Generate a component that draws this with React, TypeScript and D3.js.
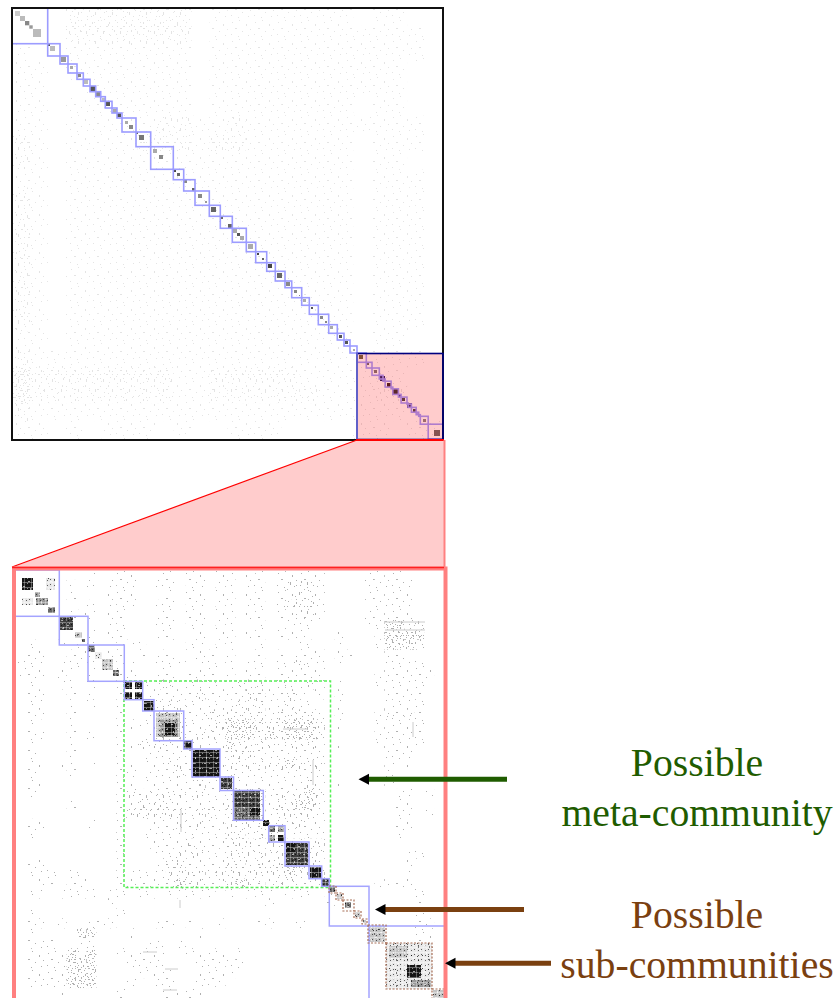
import React from "react";
import * as d3 from "d3";

// ---------- overview matrix: node index at the end of each community ----------
const overviewBounds = [0, 35.7, 48, 56, 65, 71.3, 78, 83.7, 88.7, 93.3, 100, 105, 110, 124, 138.7, 161.3, 171.7, 183, 197.3, 208.3, 220.3, 234.3, 243.7, 254.7, 263.3, 273, 279.7, 289.7, 297.3, 306.3, 316.7, 325.3, 332, 338, 345, 354.3, 360, 367.3, 371, 373.2, 379.1, 380.8, 386.4, 389.1, 395, 396.1, 399.4, 404.2, 406.7, 408.3, 416.2, 431];
const overviewSelection = [345, 431];
// [first node, last node, grey]
const overviewSpots: [number, number, string][] = [
  [3, 8, "#ccc"], [8, 13, "#bbb"], [13, 17.3, "#888"], [17.3, 20.7, "#999"], [21, 29, "#bbb"], [35.7, 38, "#555"], [38, 43, "#bbb"], [49, 54, "#999"], [58, 61, "#aaa"], [66, 69, "#888"], [72, 76, "#bbb"], [78, 83, "#555"], [84, 88, "#888"], [90, 93, "#bbb"], [94, 98, "#555"], [101, 105, "#aaa"], [105, 109, "#555"], [113, 116, "#aaa"], [117, 121, "#888"], [124, 126, "#666"], [127, 132, "#777"], [141, 145, "#aaa"], [147, 151, "#888"], [161, 164, "#444"], [165, 168, "#666"], [172, 175, "#888"], [180, 183, "#666"], [186, 190, "#888"], [193, 195, "#999"], [199, 204, "#666"], [209, 211, "#666"], [216, 220, "#666"], [221, 225, "#aaa"], [225, 228, "#555"], [228, 232, "#aaa"], [236, 241, "#aaa"], [245, 247, "#444"], [250, 252, "#666"], [256, 260, "#444"], [265, 270, "#666"], [274, 278, "#888"], [282, 285, "#888"], [287, 288, "#888"], [291, 294, "#aaa"], [299, 301, "#555"], [308, 311, "#888"], [313, 315, "#888"], [318, 321, "#aaa"], [327, 330, "#555"], [333, 336, "#555"], [341, 343, "#aaa"], [347, 351, "#664"], [355, 357, "#666"], [362, 365, "#777"], [368, 373, "#226"], [375, 379, "#322"], [381, 386, "#333"], [387, 389, "#226"], [390, 393, "#444"], [395, 400, "#336"], [401, 405, "#444"], [406, 408, "#226"], [411, 414, "#888"], [422, 428, "#666"],
];
// faint background density, 24 x 24 coarse cells
const overviewDensity = [
  "000222222201111111101100",
  "000222222201111111111110",
  "100111111101111111111110",
  "110111111101111111111100",
  "110011111101111111111100",
  "110111111101111111101100",
  "110111112211211111111110",
  "210111122212211111101110",
  "210111111111111111101100",
  "110111111111111111101110",
  "210111111111111111101110",
  "210111111111111111101110",
  "210111111111111111101110",
  "210111111111111111101110",
  "210111111111111111101110",
  "210111111111111111101110",
  "210111111111111111101110",
  "210111111111111111101110",
  "110111111111111111101100",
  "211111111111111111101110",
  "322222222112222211111100",
  "322222222112222221112200",
  "211111111111111111111100",
  "110101110100111000011011",
];

// ---------- detail matrix: node index at the end of each community ----------
const detailBounds = [0, 46.3, 75, 111.3];
const detailLaterBounds = [111.3, 129.7, 141, 170.7, 179, 207, 220.5, 250.3];
const detailLastBounds = [255.7, 272, 296, 308.7, 316.3, 356, 433];
const metaCommunity = [111, 317.5];
const subCommunities = [[316, 323], [323, 330], [330, 341], [341, 348], [349, 354], [355, 373], [373, 419], [419, 433]];

const detailDensity = [
  "0000000100110011011011011011111000011110000",
  "0000010101110011011011011012221000011111000",
  "0000010001110001011011011011221000011111000",
  "0000000101110011011011011012221000001111000",
  "0000011101100011011011011011221000011111000",
  "0000000001100011011011001001110000011332200",
  "0000000101100011001011011011100010001333300",
  "0100101100111000011011001000110010001333200",
  "0110011101101011001101001010111011000110000",
  "1110111100110011101111011011211010000111100",
  "1110100100110011011101011011111000001111110",
  "0100110100100122112111222112121010001111100",
  "0110010100100111112111122112101010000111100",
  "0110010100100122211111222112110010000111100",
  "0110010000100122211222222122221010001212100",
  "0100010000111122211123332223332010001111100",
  "0110010100100122212223332323332000001111100",
  "0100010000112222112113222212221010001111100",
  "0100010000100111111112221111111000000111000",
  "0110110100110112211222222223222000000101000",
  "0100010000110111211112111111111000000100000",
  "0110000000110111112112111111121010000100000",
  "0100000000122222212111333122232000000011010",
  "0000010000112222112112333122332000000011000",
  "0000000000122222212212333122221000000011010",
  "0110000100100111212112222122211000000011000",
  "0100000000100111111112212111111000000010000",
  "0000000000100111121112221222222000000000000",
  "0000000000100011222112222223222000000001100",
  "0110000000100012211112212223322000000001000",
  "0111011000111112222122222223222000000001000",
  "0011011000111112322122322122121000001111000",
  "0110111101101101111101011101110100000000100",
  "0000000001000000000000000100000100000000100",
  "0100000000100000000000000000000000000000100",
  "0110100111000011010010001100100000000000110",
  "0100003300010000001000000000000000000000110",
  "0111001100000110100000000000000000000000110",
  "0111131300111110011110100000000000000000110",
  "0111133300011110001111100000000000000000010",
  "0111133300001111001111000000000000000000100",
  "0111133300010011001110000000000000000000100",
  "0000100000100011111000000000000000000000000",
];
// [first col, last col, first row, last row, strength]
const detailBlocks: [number, number, number, number, number][] = [
  [9, 20, 8, 20, 6], [22, 27, 22, 27, 3], [23, 35, 28, 35, 3], [35, 42, 37, 43, 4], [33, 42, 8, 20, 1], [9, 20, 28, 35, 1],
  [47, 60, 47, 60, 5], [62, 69, 62, 68, 2], [69, 72, 69, 72, 4],
  [75, 82, 75, 82, 4], [82, 89, 82, 89, 1], [89, 100, 89, 100, 2], [100, 106, 100, 106, 4],
  [111, 119, 111, 119, 6], [122, 130, 111, 119, 6], [111, 119, 122, 130, 6], [122, 130, 122, 130, 6],
  [131, 141, 131, 141, 6],
  [143, 167, 143, 167, 2], [147, 165, 150, 167, 3], [152, 162, 153, 165, 6],
  [171, 179, 171, 179, 6],
  [180, 207, 180, 207, 6],
  [208, 219, 208, 219, 5],
  [220, 247, 220, 237, 5], [220, 247, 237, 250, 4], [237, 247, 238, 245, 6],
  [250, 256, 250, 256, 6],
  [256, 262, 256, 262, 4], [265, 271, 256, 262, 3], [256, 262, 265, 271, 3], [265, 271, 265, 271, 6],
  [273, 295, 273, 295, 5], [273, 282, 273, 282, 6],
  [297, 308, 297, 308, 6],
  [309, 316, 309, 316, 5],
  [317, 322, 317, 322, 4], [324, 329, 324, 329, 2], [332, 338, 332, 338, 4], [342, 347, 342, 347, 2], [350, 353, 350, 353, 2],
  [356, 372, 356, 372, 2],
  [373, 419, 373, 419, 1], [376, 394, 376, 388, 2], [394, 408, 395, 408, 6], [398, 418, 410, 417, 3],
  [420, 432, 420, 432, 2],
];
// [first col, last col, row] and [col, first row, last row]
const detailRowStreaks = [[270, 294, 159], [130, 144, 382], [152, 165, 399], [150, 164, 420], [372, 412, 52], [372, 412, 60]];
const detailColStreaks = [[400, 152, 167], [167, 330, 338], [300, 190, 215], [168, 240, 262]];

const labels = [
  { lines: ["Possible", "meta-community"], color: "#1f5c00", y: [776, 826] },
  { lines: ["Possible", "sub-communities"], color: "#7a4010", y: [928, 978] },
];
const arrows = [
  { from: 507, tip: 358.5, y: 779.3, color: "#1f5c00" },
  { from: 524, tip: 375, y: 909.5, color: "#7a4010" },
  { from: 551, tip: 445, y: 963.3, color: "#7a4010" },
];

// stipple tiles used to render sparse adjacency cells
const tiles = [
  { w: 23, h: 19, dots: [[2, 3, 1, 1], [9, 1, 1, 1], [16, 5, 1, 2], [5, 9, 2, 1], [12, 12, 1, 1], [20, 10, 1, 1], [1, 15, 1, 1], [8, 17, 1, 1], [18, 16, 1, 1]] },
  { w: 17, h: 29, dots: [[1, 2, 1, 3], [7, 5, 1, 1], [12, 1, 1, 2], [4, 11, 1, 1], [10, 12, 1, 3], [15, 9, 1, 1], [2, 19, 1, 1], [7, 22, 1, 2], [13, 20, 1, 1], [15, 26, 1, 1], [4, 26, 2, 1], [10, 26, 1, 1], [6, 16, 1, 1]] },
  { w: 13, h: 11, dots: [[1, 1, 2, 1], [6, 2, 1, 1], [10, 0, 1, 1], [3, 4, 1, 1], [8, 5, 2, 1], [12, 6, 1, 1], [0, 8, 1, 1], [5, 8, 1, 1], [10, 9, 1, 1], [3, 10, 1, 1], [7, 0, 1, 1]] },
];
const blockGrey = ["#fff", "#e8e8e8", "#c4c4c4", "#989898", "#686868", "#3c3c3c", "#181818"];

const topX = d3.scaleLinear().domain([0, 431]).range([12, 443]);
const topY = d3.scaleLinear().domain([0, 431]).range([8, 439]);
const botX = d3.scaleLinear().domain([0, 433]).range([13, 446]);
const botY = d3.scaleLinear().domain([0, 433]).range([570, 1003]);
const topGrid = d3.scaleBand<number>().domain(d3.range(24)).range([0, 431]);
const botGridX = d3.scaleBand<number>().domain(d3.range(43)).range([17, 444]);
const botGridY = d3.scaleBand<number>().domain(d3.range(43)).range([570, 998]);

function Stipple({ prefix, fill }: { prefix: string; fill: string }) {
  return (
    <>
      {tiles.map((t, i) => (
        <pattern key={i} id={`${prefix}${i}`} width={t.w} height={t.h} patternUnits="userSpaceOnUse">
          {t.dots.map((d, j) => (
            <rect key={j} x={d[0]} y={d[1]} width={d[2]} height={d[3]} fill={fill} />
          ))}
        </pattern>
      ))}
    </>
  );
}

function DensityCells({ rows, prefix, x, y, ox, oy, w, h }: { rows: string[]; prefix: string; x: (i: number) => number; y: (i: number) => number; ox: number; oy: number; w: number; h: number }) {
  const out: React.ReactNode[] = [];
  rows.forEach((row, r) => {
    for (let c = 0; c < row.length; c++) {
      const level = +row[c];
      for (let l = 0; l < level; l++) {
        out.push(<rect key={`${r}-${c}-${l}`} x={ox + x(c)} y={oy + y(r)} width={w} height={h} fill={`url(#${prefix}${l})`} />);
      }
    }
  });
  return <g>{out}</g>;
}

function box(a: number, b: number, x: (v: number) => number, y: (v: number) => number, key: string, stroke: string, sw: number, dash?: string) {
  return <rect key={key} x={x(a)} y={y(a)} width={x(b) - x(a)} height={y(b) - y(a)} fill="none" stroke={stroke} strokeWidth={sw} strokeDasharray={dash} />;
}

export default function App() {
  const trapezoid = d3.path();
  trapezoid.moveTo(topX(overviewSelection[0]), 440);
  trapezoid.lineTo(topX(overviewSelection[1]) + 1, 440);
  trapezoid.lineTo(444, 567);
  trapezoid.lineTo(13, 567);
  trapezoid.closePath();

  const topCell = topGrid.bandwidth();
  const detailBoxes = [...d3.pairs(detailBounds), ...d3.pairs(detailLaterBounds), ...d3.pairs(detailLastBounds)];

  return (
    <svg width={836} height={998} viewBox="0 0 836 998" style={{ position: "absolute", left: 0, top: 0, display: "block" }}>
      <defs>
        <Stipple prefix="tp" fill="#e4e4e4" />
        <Stipple prefix="bt" fill="#b0b0b0" />
        <pattern id="gaps" width={7} height={5} patternUnits="userSpaceOnUse">
          <rect x={0} y={2} width={7} height={1} fill="#fff" opacity={0.35} />
          <rect x={3} y={0} width={1} height={5} fill="#fff" opacity={0.3} />
          <rect x={1} y={4} width={1} height={1} fill="#000" opacity={0.6} />
          <rect x={5} y={0} width={1} height={1} fill="#000" opacity={0.6} />
          <rect x={6} y={3} width={1} height={1} fill="#fff" opacity={0.5} />
        </pattern>
        <pattern id="gaps2" width={11} height={13} patternUnits="userSpaceOnUse">
          <rect x={1} y={1} width={2} height={1} fill="#fff" opacity={0.6} />
          <rect x={8} y={3} width={1} height={2} fill="#fff" opacity={0.6} />
          <rect x={4} y={6} width={1} height={1} fill="#000" opacity={0.7} />
          <rect x={6} y={9} width={2} height={1} fill="#fff" opacity={0.6} />
          <rect x={0} y={10} width={1} height={2} fill="#000" opacity={0.5} />
          <rect x={10} y={7} width={1} height={1} fill="#000" opacity={0.7} />
        </pattern>
        <filter id="soft" x="0" y="0" width="1" height="1"><feGaussianBlur stdDeviation={0.55} /></filter>
        <filter id="soft2" x="0" y="0" width="1" height="1"><feGaussianBlur stdDeviation={0.45} /></filter>
        <clipPath id="page"><rect x={0} y={0} width={447} height={998} /></clipPath>
      </defs>
      <rect x={0} y={0} width={836} height={998} fill="#fff" />

      {/* overview */}
      <g filter="url(#soft)">
        <rect x={12} y={8} width={431} height={431} fill="#fff" />
        <DensityCells rows={overviewDensity} prefix="tp" x={(i) => topGrid(i)!} y={(i) => topGrid(i)!} ox={12} oy={8} w={topCell} h={topCell} />
        {overviewSpots.map(([a, b, c], i) => (
          <rect key={i} x={topX(a)} y={topY(a)} width={topX(b) - topX(a)} height={topY(b) - topY(a)} fill={c} />
        ))}
      </g>
      {d3.pairs(overviewBounds).map(([a, b], i) => box(a, b, topX, topY, `o${i}`, "#9c9cff", 1.6))}
      <rect x={topX(overviewSelection[0])} y={topY(overviewSelection[0])} width={topX(overviewSelection[1]) - topX(overviewSelection[0])} height={topY(overviewSelection[1]) - topY(overviewSelection[0]) + 1} fill="#ff0000" fillOpacity={0.2} />
      <rect x={12} y={8} width={431} height={432} fill="none" stroke="#111" strokeWidth={2} />
      <rect x={357} y={353.5} width={86} height={86} fill="none" stroke="#000080" strokeWidth={1.6} />
      <line x1={357} x2={357} y1={353} y2={440} stroke="#6060c8" strokeWidth={2} />

      {/* zoom connector */}
      <path d={trapezoid.toString()} fill="#ffcccc" />
      <line x1={357} y1={440} x2={12} y2={567} stroke="#ff0000" strokeWidth={1.2} />
      <line x1={356} y1={440} x2={444} y2={440} stroke="#ff0000" strokeWidth={2} />
      <line x1={444.5} y1={440} x2={444.5} y2={567} stroke="#ff8080" strokeWidth={2} />

      {/* detail */}
      <g clipPath="url(#page)">
        <g filter="url(#soft2)">
          <rect x={13} y={568} width={434} height={430} fill="#fff" />
          <DensityCells rows={detailDensity} prefix="bt" x={(i) => botGridX(i)!} y={(i) => botGridY(i)!} ox={0} oy={0} w={botGridX.bandwidth()} h={botGridY.bandwidth()} />
          {detailRowStreaks.map(([a, b, r], i) => (
            <line key={i} x1={botX(a)} x2={botX(b)} y1={botY(r)} y2={botY(r)} stroke="#ccc" strokeWidth={1} />
          ))}
          {detailColStreaks.map(([c, a, b], i) => (
            <line key={i} x1={botX(c)} x2={botX(c)} y1={botY(a)} y2={botY(b)} stroke="#ccc" strokeWidth={1} />
          ))}
          {detailBlocks.map(([a, b, c, d, s], i) => (
            <g key={i}>
              <rect x={botX(a)} y={botY(c)} width={botX(b) - botX(a)} height={botY(d) - botY(c)} fill={blockGrey[s]} />
              <rect x={botX(a)} y={botY(c)} width={botX(b) - botX(a)} height={botY(d) - botY(c)} fill="url(#gaps)" />
              <rect x={botX(a)} y={botY(c)} width={botX(b) - botX(a)} height={botY(d) - botY(c)} fill="url(#gaps2)" />
            </g>
          ))}
        </g>
        {box(metaCommunity[0], metaCommunity[1], botX, botY, "meta", "#55f055", 1.5, "3 2")}
        {detailBoxes.map(([a, b], i) => box(a, b, botX, botY, `d${i}`, "#a4a4ff", 1.5))}
        {subCommunities.map(([a, b], i) => box(a, b, botX, botY, `s${i}`, "#a87058", 1.2, "2 1.5"))}
      </g>
      <rect x={14} y={568.5} width={431.5} height={440} fill="none" stroke="#ff8080" strokeWidth={4} />
      <line x1={12} x2={444} y1={567.5} y2={567.5} stroke="#ff2020" strokeWidth={1.6} />

      {/* annotations */}
      {arrows.map((a, i) => {
        const head = d3.path();
        head.moveTo(a.tip, a.y);
        head.lineTo(a.tip + 10.5, a.y - 5.5);
        head.lineTo(a.tip + 10.5, a.y + 5.5);
        head.closePath();
        return (
          <g key={i}>
            <line x1={a.tip + 10} x2={a.from} y1={a.y} y2={a.y} stroke={a.color} strokeWidth={5} />
            <path d={head.toString()} fill="#000" />
          </g>
        );
      })}
      {labels.map((l, i) =>
        l.lines.map((t, j) => (
          <text key={`${i}-${j}`} x={697} y={l.y[j]} textAnchor="middle" fontFamily="'Liberation Serif', serif" fontSize={39.7} fill={l.color}>
            {t}
          </text>
        ))
      )}
    </svg>
  );
}
